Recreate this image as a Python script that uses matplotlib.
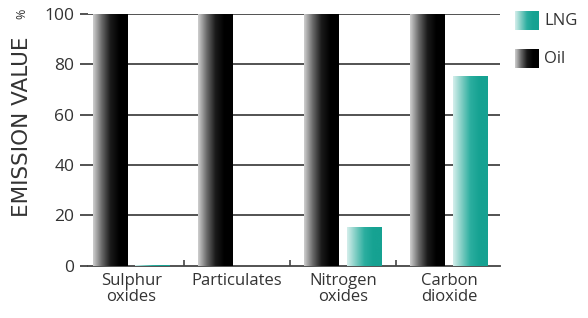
import matplotlib
matplotlib.use('Agg')
import matplotlib.pyplot as plt
from matplotlib.colors import LinearSegmentedColormap
import numpy as np

categories = ['Sulphur\noxides', 'Particulates', 'Nitrogen\noxides', 'Carbon\ndioxide']
oil = [100, 100, 100, 100]
lng = [0.5, 0, 15.5, 75.5]
yticks = [0, 20, 40, 60, 80, 100]

plt.rcParams['font.family'] = ['Open Sans', 'DejaVu Sans']
txt = '#333333'

oil_cmap = LinearSegmentedColormap.from_list('oil', ['#d0d0d0', '#6a6a6a', '#1a1a1a', '#000000', '#000000'])
lng_cmap = LinearSegmentedColormap.from_list('lng', ['#d6efec', '#7fcdc3', '#2bae9f', '#16a292', '#16a292'])
grad = np.linspace(0, 1, 256).reshape(1, -1)

fig = plt.figure(figsize=(5.88, 3.18), dpi=100)
ax = fig.add_axes([0.150, 0.164, 0.700, 0.792])

x = np.arange(len(categories))
w = 0.33
oil_bars = ax.bar(x - 0.2, oil, w, facecolor='none', edgecolor='none', zorder=3)
lng_bars = ax.bar(x + 0.2, lng, w, facecolor='none', edgecolor='none', zorder=3)

# gradient fill for every bar, clipped to the bar rectangle
for bars, cmap in [(oil_bars, oil_cmap), (lng_bars, lng_cmap)]:
    for b in bars:
        if b.get_height() <= 0:
            continue
        x0, y0 = b.get_x(), b.get_y()
        x1, y1 = x0 + b.get_width(), y0 + b.get_height()
        im = ax.imshow(grad, cmap=cmap, aspect='auto', extent=[x0, x1, y0, y1],
                       interpolation='bicubic', zorder=3)
        im.set_clip_path(b)

ax.set_xlim(-0.406, 3.48)
ax.set_ylim(0, 100)
ax.set_yticks(yticks)
ax.set_yticklabels([str(t) for t in yticks], fontsize=12.5, color=txt)
ax.set_xticks(x)
ax.set_xticklabels(categories, fontsize=12, color=txt, linespacing=1.0)
ax.tick_params(axis='x', length=0, pad=5)
ax.tick_params(axis='y', length=6, width=1.3, color='#444444', pad=4)
ax.set_xticks([0.5, 1.5, 2.5], minor=True)
ax.tick_params(axis='x', which='minor', direction='in', length=4, width=1.2, color='#444444')

for v in yticks[1:]:
    ax.axhline(v, color='#444444', lw=1.3, zorder=1)
for s in ['top', 'right', 'left']:
    ax.spines[s].set_visible(False)
ax.spines['bottom'].set_color('#444444')
ax.spines['bottom'].set_linewidth(1.3)

fig.text(0.038, 0.60, 'EMISSION VALUE', rotation=90, fontsize=15.5, color=txt,
         ha='center', va='center', family='DejaVu Sans')
fig.text(0.038, 0.955, '%', rotation=90, fontsize=9, color=txt, ha='center', va='center')

# legend with gradient swatches
for cmap, label, ybot in [(lng_cmap, 'LNG', 0.905), (oil_cmap, 'Oil', 0.785)]:
    lax = fig.add_axes([0.876, ybot, 0.040, 0.060])
    lax.imshow(grad, cmap=cmap, aspect='auto', interpolation='bicubic')
    lax.axis('off')
    fig.text(0.925, ybot + 0.030, label, fontsize=12, color=txt, ha='left', va='center')

fig.savefig('out.png', dpi=100)
